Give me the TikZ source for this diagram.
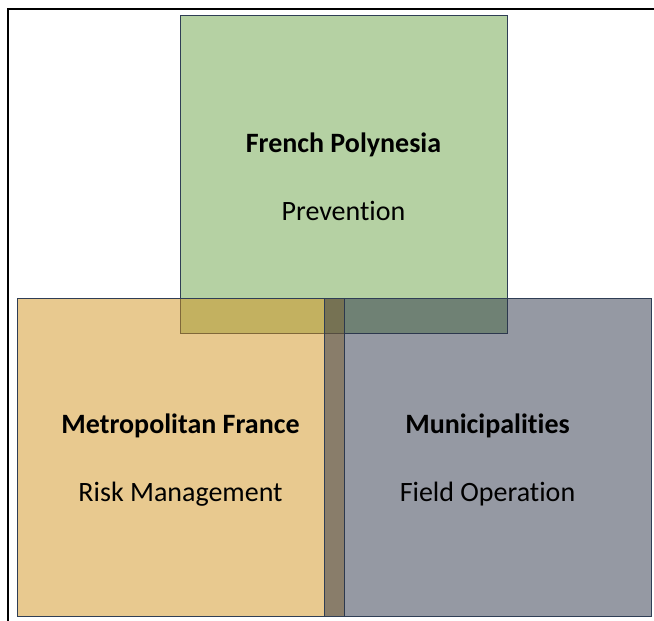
\documentclass[tikz,border=0pt]{standalone}
\usepackage{fontspec}
\setmainfont{Carlito}[Ligatures = NoCommon]
\definecolor{polygreen}{HTML}{6BA347}
\definecolor{metroorange}{HTML}{D1931F}
\definecolor{municgray}{HTML}{2B3347}
\definecolor{boxline}{HTML}{2F3E55}
\newcommand{\rolelabel}[2]{\rule{0pt}{25pt}\textbf{#1}\\#2}

\begin{document}
\begin{tikzpicture}[x = 1pt, y = -1pt, every node/.style = {rectangle, draw = boxline, line width = 1pt, minimum width = 327pt, minimum height = 318pt, inner sep = 0pt, fill opacity = 0.5, text opacity = 1, align = center, font = \fontsize{28}{68}\selectfont}]

	\useasboundingbox (0, 0) rectangle (654, 621);

	% outer frame (cut at right and bottom)
	\coordinate (FT) at (  8,   9);
	\draw [line width = 1.8pt, black] (8, 621) -- (FT) -- (654, 9);

	\node (FP) at (343.5, 174.5) [fill = polygreen]   {\rolelabel{French Polynesia}{Prevention}};
	\node (MF) at (180.5, 457)   [fill = metroorange] {\rolelabel{Metropolitan France}{Risk Management}};
	\node (MU) at (487.5, 457)   [fill = municgray]   {\rolelabel{Municipalities}{Field Operation}};

\end{tikzpicture}
\end{document}
